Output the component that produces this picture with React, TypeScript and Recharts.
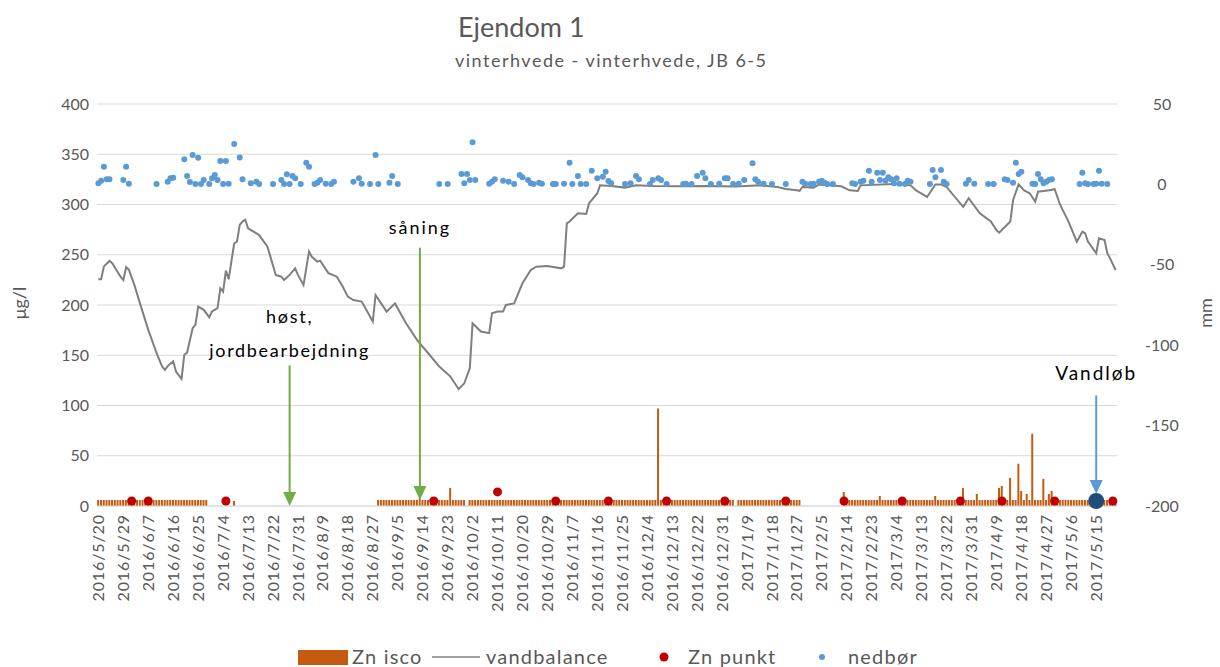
import {
  ComposedChart,
  Bar,
  Line,
  Scatter,
  XAxis,
  YAxis,
  CartesianGrid,
  ReferenceLine,
} from 'recharts'

// daily categories, 2016/5/20 .. 2017/5/22
const START = Date.UTC(2016, 4, 20)
const DAY_COUNT = 368
const dates = Array.from({ length: DAY_COUNT }, (_, i) => {
  const d = new Date(START + i * 86400000)
  return `${d.getUTCFullYear()}/${d.getUTCMonth() + 1}/${d.getUTCDate()}`
})

const leftTicks = [0, 50, 100, 150, 200, 250, 300, 350, 400]
const rightTicks = [-200, -150, -100, -50, 0, 50]

// Zn isco (µg/l): [first day, last day, level] runs, then single peaks [day, value]
const iscoRuns: [number, number, number][] = [
  [0, 39, 6], [49, 49, 5], [101, 132, 6], [134, 229, 6], [231, 253, 6], [269, 367, 6],
]
const iscoPeaks: [number, number][] = [
  [116, 8], [127, 18], [202, 97], [269, 14], [282, 10], [302, 10], [312, 18], [317, 12],
  [325, 18], [326, 20], [329, 28], [332, 42], [333, 15], [335, 12], [337, 72], [341, 27],
  [343, 12], [344, 15],
]

// Zn punkt (µg/l) [day, value]
const znPunkt: [number, number][] = [
  [12, 5], [18, 5], [46, 5], [121, 5], [144, 14], [165, 5], [184, 5], [205, 5], [226, 5],
  [248, 5], [269, 5], [290, 5], [311, 5], [326, 5], [345, 5], [366, 5],
]
const vandlob: [number, number][] = [[360, 5]]

// vandbalance (mm) [day, value]
const vandbalance: [number, number][] = [
  [0, -59], [1, -59], [2, -51], [4, -47.6], [5, -49], [8, -57.4], [9, -59.5], [10, -51.5],
  [11, -53], [13, -62.6], [15, -74], [18, -90.5], [21, -105], [23, -113.3], [24, -115.4],
  [25, -113], [27, -110], [28, -116.4], [30, -121], [31, -106], [32, -104.6], [34, -89.5],
  [35, -87.4], [36, -76], [38, -78], [40, -82.6], [41, -79], [43, -77], [44, -64.6],
  [45, -66.7], [46, -53.6], [47, -59], [49, -36.6], [50, -35.6], [51, -25.2], [52, -23.1],
  [53, -22], [54, -27.3], [56, -29.4], [58, -31.5], [61, -38.7], [64, -56.3], [66, -57.4],
  [67, -59.5], [69, -56.3], [71, -52.2], [72, -56.3], [74, -62.6], [76, -41.8], [77, -45],
  [79, -48], [80, -47.4], [83, -55.2], [86, -57.4], [88, -63], [90, -69.8], [92, -71.9],
  [95, -72.9], [99, -85.3], [100, -68.8], [102, -74], [104, -79.1], [107, -74], [111, -86.4],
  [115, -96.8], [119, -105], [123, -113.3], [127, -119.5], [130, -127.4], [132, -123.7],
  [134, -114.3], [135, -86.4], [138, -91.5], [141, -92.5], [142, -80.1], [144, -79.1],
  [146, -79.1], [147, -75], [150, -74], [153, -61.5], [156, -53.2], [158, -51.2],
  [162, -50.7], [167, -52.2], [168, -51.2], [169, -24.2], [170, -23.1], [173, -18],
  [176, -18.4], [177, -11.8], [180, -5.5], [181, -0.6], [185, -1], [190, -2], [194, -0.6],
  [200, -1], [210, -1.2], [220, -1], [230, -1.3], [239, -0.6], [245, -1.6], [248, -2.9],
  [252, -3.6], [253, -4], [254, -1.6], [258, -2], [260, 0], [268, -1.2], [271, -3.7],
  [274, -4.1], [275, -0.6], [289, 0.4], [293, -0.6], [295, -3.7], [299, -7.8], [302, 0],
  [304, 0], [306, -1.6], [312, -14], [314, -8.6], [318, -18], [322, -23.1], [324, -28.4],
  [325, -30], [329, -23.1], [330, -9.7], [332, 0], [334, -3.7], [336, -5.5], [338, -10.7],
  [339, -4.5], [343, -3.6], [345, -3], [347, -12.8], [350, -23.1], [353, -35.6], [355, -29.4],
  [356, -30.4], [357, -35.6], [360, -42.8], [361, -33.5], [363, -34.6], [364, -42.8],
  [365, -46], [367, -53.2],
]

// nedbør (mm) [day, value]
const nedbor: [number, number][] = [
  [0, 0.7], [1, 2.3], [2, 11], [3, 3.2], [4, 3.2], [9, 2.7], [10, 11], [11, 0.4], [21, 0.2],
  [25, 1.7], [26, 3.8], [27, 4.2], [31, 15.6], [32, 5.2], [33, 1.5], [34, 18.3], [35, 0.2],
  [36, 16.6], [37, 0.2], [38, 2.7], [40, 0.2], [41, 3.8], [42, 5.8], [43, 2.7], [44, 14.5],
  [45, 0.2], [46, 14.5], [47, 0.4], [49, 25.1], [51, 16.8], [52, 3.2], [55, 0.7], [57, 1.7],
  [58, 0.2], [63, 0.2], [66, 2.7], [67, 0.2], [68, 6.3], [69, 0.2], [70, 5.2], [71, 3.8],
  [73, 0.2], [75, 13.5], [76, 11], [78, 0.2], [79, 1.1], [80, 2.7], [82, 0.4], [84, 0.2],
  [85, 1.7], [92, 1.7], [94, 3.8], [95, 0.4], [98, 0.2], [100, 18.3], [101, 0.2], [105, 1.1],
  [106, 5.2], [108, 0.2], [123, 0.2], [126, 0.2], [131, 6.5], [132, 0.7], [133, 6.5],
  [134, 2.7], [135, 26.2], [136, 2.7], [141, 0.4], [142, 1.7], [143, 3.2], [146, 2.3],
  [148, 1.7], [150, 0.2], [152, 5.8], [153, 4.4], [155, 2.7], [156, 0.7], [157, 0.2],
  [159, 1.1], [160, 0.4], [164, 0.2], [165, 0.2], [168, 0.4], [170, 13.5], [171, 0.2],
  [173, 5.2], [174, 0.2], [176, 0.2], [178, 8.5], [180, 3.8], [182, 4.8], [183, 7.9],
  [184, 2.1], [185, 0.7], [190, 0.2], [192, 0.7], [194, 5.2], [195, 3.2], [199, 0.2],
  [200, 2.7], [202, 3.8], [203, 2.7], [205, 0.2], [211, 0.2], [212, 0.4], [214, 0.2],
  [216, 5.2], [218, 7.3], [219, 3.8], [221, 0.2], [224, 0.4], [226, 3.8], [227, 3.8],
  [229, 0.2], [231, 0.4], [233, 2.7], [236, 13.1], [237, 3.2], [238, 1.7], [240, 0.4],
  [243, 0.2], [248, 0.2], [254, 1.7], [255, 0.4], [257, 0.2], [258, 0.4], [260, 1.7],
  [261, 2.3], [262, 1.1], [263, 0.2], [265, 0.2], [272, 0.7], [273, 0.2], [275, 1.7],
  [276, 2.3], [278, 8.5], [279, 1.7], [281, 7.3], [282, 2.7], [283, 7.3], [284, 2.3],
  [285, 4.4], [286, 3.2], [287, 0.7], [288, 3.8], [289, 0.4], [291, 0.2], [292, 2.3],
  [293, 1.7], [300, 0.2], [301, 9], [302, 4.4], [304, 9], [305, 1.7], [306, 0.2], [313, 0.4],
  [314, 2.7], [316, 0.4], [321, 0.2], [323, 0.2], [327, 3.2], [328, 2.7], [330, 1.1],
  [331, 13.5], [332, 6.5], [333, 7.9], [337, 0.4], [338, 0.2], [339, 6.5], [340, 3.2],
  [341, 0.7], [342, 1.7], [343, 2.7], [344, 3.2], [354, 0.2], [355, 7.3], [356, 0.7],
  [357, 0.2], [359, 0.2], [360, 0.4], [361, 8.5], [362, 0.4], [364, 0.2],
]

type Row = {
  date: string
  isco: number | null
  vand: number | null
  punkt: number | null
  nedbor: number | null
  vandlob: number | null
}

const rows: Row[] = dates.map((date) => ({
  date, isco: null, vand: null, punkt: null, nedbor: null, vandlob: null,
}))
for (const [a, b, v] of iscoRuns) for (let i = a; i <= b; i++) rows[i].isco = v
for (const [i, v] of iscoPeaks) rows[i].isco = v
for (const [i, v] of znPunkt) rows[i].punkt = v
for (const [i, v] of vandlob) rows[i].vandlob = v
for (const [i, v] of vandbalance) rows[i].vand = v
for (const [i, v] of nedbor) rows[i].nedbor = v

const GRAY = '#595959'
const FONT = 'Lato, "Open Sans", sans-serif'

function DateTick({ x, y, payload }: any) {
  return (
    <text
      x={x}
      y={y}
      transform={`rotate(-90 ${x} ${y})`}
      textAnchor="end"
      dy="0.35em"
      fill={GRAY}
      fontSize={16}
      letterSpacing={0.9}
    >
      {payload.value}
    </text>
  )
}

function RightTick({ x, y, payload }: any) {
  return (
    <text x={x + 37} y={y} dy="0.35em" textAnchor="middle" fill={GRAY} fontSize={16}>
      {payload.value}
    </text>
  )
}

const dotShape = (key: keyof Row, r: number, color: string) => (p: any) =>
  p.payload == null || p.payload[key] == null ? (
    <g />
  ) : (
    <circle cx={p.cx} cy={p.cy} r={r} fill={color} />
  )

function Arrow(props: any) {
  const { x1, y1, x2, y2, color, lines, fontSize, spacing, gap } = props
  const head = 14
  const half = 6.5
  const lineH = 34
  return (
    <g>
      <line x1={x1} y1={y1} x2={x2} y2={y2 - head} stroke={color} strokeWidth={2} />
      <polygon
        points={`${x2 - half},${y2 - head} ${x2 + half},${y2 - head} ${x2},${y2}`}
        fill={color}
      />
      {lines.map((t: string, i: number) => (
        <text
          key={t}
          x={x1}
          y={y1 - gap - (lines.length - 1 - i) * lineH}
          textAnchor="middle"
          fill="#000"
          fontSize={fontSize}
          letterSpacing={spacing}
        >
          {t}
        </text>
      ))}
    </g>
  )
}

export default function App() {
  return (
    <div
      style={{
        position: 'relative',
        width: 1220,
        height: 667,
        boxSizing: 'border-box',
        padding: 8,
        fontFamily: FONT,
      }}
    >
      <style>{'body{margin:0;overflow:hidden}'}</style>
      <ComposedChart
        width={1204}
        height={651}
        data={rows}
        margin={{ top: 96, right: 0, bottom: 0, left: 0 }}
        barCategoryGap="6%"
      >
        <CartesianGrid yAxisId="left" vertical={false} stroke="#d9d9d9" />
        <XAxis
          dataKey="date"
          interval={8}
          height={153}
          tickLine={false}
          axisLine={{ stroke: '#d9d9d9' }}
          tick={<DateTick />}
        />
        <YAxis
          yAxisId="left"
          width={89}
          domain={[0, 400]}
          ticks={leftTicks}
          tickLine={false}
          axisLine={false}
          tick={{ fill: GRAY, fontSize: 16 }}
        />
        <YAxis
          yAxisId="right"
          orientation="right"
          width={95}
          domain={[-200, 50]}
          ticks={rightTicks}
          tickLine={false}
          axisLine={false}
          tick={<RightTick />}
        />
        <Bar yAxisId="left" dataKey="isco" fill="#c55a11" isAnimationActive={false} />
        <Line
          yAxisId="right"
          dataKey="vand"
          type="linear"
          stroke="#7f7f7f"
          strokeWidth={2}
          dot={false}
          connectNulls
          isAnimationActive={false}
        />
        <Scatter
          yAxisId="right"
          dataKey="nedbor"
          fill="#5b9bd5"
          shape={dotShape('nedbor', 3, '#5b9bd5')}
          isAnimationActive={false}
        />
        <Scatter
          yAxisId="left"
          dataKey="punkt"
          fill="#c00000"
          shape={dotShape('punkt', 4.5, '#c00000')}
          isAnimationActive={false}
        />
        <Scatter
          yAxisId="left"
          dataKey="vandlob"
          fill="#1f4e79"
          shape={dotShape('vandlob', 8, '#1f4e79')}
          isAnimationActive={false}
        />
        <ReferenceLine
          yAxisId="left"
          ifOverflow="visible"
          segment={[{ x: dates[69], y: 140 }, { x: dates[69], y: 0 }]}
          shape={(p: any) => (
            <Arrow {...p} color="#70ad47" lines={['høst,', 'jordbearbejdning']}
              fontSize={18} spacing={1.7} gap={8} />
          )}
        />
        <ReferenceLine
          yAxisId="left"
          ifOverflow="visible"
          segment={[{ x: dates[116], y: 257 }, { x: dates[116], y: 6 }]}
          shape={(p: any) => (
            <Arrow {...p} color="#70ad47" lines={['såning']} fontSize={18} spacing={2} gap={14} />
          )}
        />
        <ReferenceLine
          yAxisId="left"
          ifOverflow="visible"
          segment={[{ x: dates[360], y: 110 }, { x: dates[360], y: 12 }]}
          shape={(p: any) => (
            <Arrow {...p} color="#5b9bd5" lines={['Vandløb']} fontSize={19} spacing={2} gap={15} />
          )}
        />
      </ComposedChart>
      <svg
        width={1204}
        height={651}
        style={{ position: 'absolute', left: 8, top: 8, overflow: 'visible', pointerEvents: 'none' }}
      >
        <text x={450} y={29} fontSize={27} fill={GRAY}>Ejendom 1</text>
        <text x={447} y={59} fontSize={18} fill={GRAY} letterSpacing={1.5}>
          vinterhvede - vinterhvede, JB 6-5
        </text>
        <text x={12} y={295} transform="rotate(-90 12 295)" textAnchor="middle" dy="0.35em"
          fontSize={18} fill={GRAY}>μg/l</text>
        <text x={1198} y={305} transform="rotate(-90 1198 305)" textAnchor="middle" dy="0.35em"
          fontSize={18} fill={GRAY}>mm</text>
        <g fontSize={20} fill={GRAY} letterSpacing={1.2}>
          <rect x={290} y={642} width={50} height={15} fill="#c55a11" />
          <text x={344} y={656}>Zn isco</text>
          <line x1={424} x2={472} y1={649} y2={649} stroke="#7f7f7f" strokeWidth={1.5} />
          <text x={478} y={656}>vandbalance</text>
          <circle cx={656} cy={649} r={4.5} fill="#c00000" />
          <text x={680} y={656}>Zn punkt</text>
          <circle cx={814} cy={649} r={3} fill="#5b9bd5" />
          <text x={840} y={656}>nedbør</text>
        </g>
      </svg>
    </div>
  )
}
